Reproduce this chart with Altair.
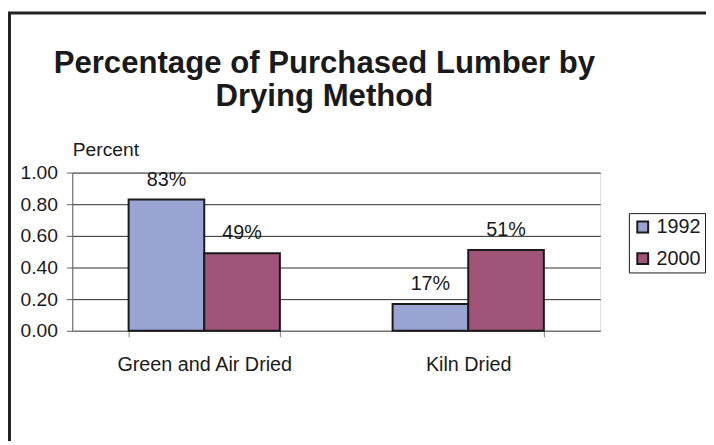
import altair as alt
import pandas as pd

# ---- data ----
methods = ["Green and Air Dried", "Green and Air Dried", "Kiln Dried", "Kiln Dried"]
years = ["1992", "2000", "1992", "2000"]
shares = [0.83, 0.49, 0.17, 0.51]
labels = ["83%", "49%", "17%", "51%"]
cat_order = ["Green and Air Dried", "Kiln Dried"]
year_order = ["1992", "2000"]
y_ticks = [0.0, 0.2, 0.4, 0.6, 0.8, 1.0]
colors = ["#9AA4D3", "#A05478"]
title_lines = ["Percentage of Purchased Lumber by", "Drying Method"]

df = pd.DataFrame({"method": methods, "year": years, "share": shares, "label": labels})

FONT = "Liberation Sans"
TXT = "#1a1a1a"

x = alt.X(
    "method:N",
    sort=cat_order,
    scale=alt.Scale(paddingInner=0.427, paddingOuter=0.2135),
    axis=alt.Axis(
        title=None, labelAngle=0, tickBand="extent", labelBaseline="alphabetic",
        labelPadding=34, tickSize=6, labelFontSize=20, labelFont=FONT,
        domainColor="#808080", tickColor="#808080", labelColor=TXT,
    ),
)
xo = alt.XOffset("year:N", sort=year_order, scale=alt.Scale(paddingInner=0, paddingOuter=0))
y = alt.Y(
    "share:Q",
    scale=alt.Scale(domain=[0, 1], nice=False),
    axis=alt.Axis(
        values=y_ticks, format=".2f", title="Percent", titleAngle=0, titleAlign="left",
        titleBaseline="alphabetic", titleX=0, titleY=-17, titleFontWeight="normal",
        titleFontSize=19.5, titleFont=FONT, titleColor=TXT,
        labelFontSize=19.5, labelFont=FONT, labelColor=TXT, tickSize=6, labelPadding=9,
        grid=True, gridColor="#2a2a2a", gridWidth=1, domainColor="#606060", tickColor="#606060",
    ),
)

bars = alt.Chart(df).mark_bar(stroke="#1a1a1a", strokeWidth=2).encode(
    x=x, xOffset=xo, y=y,
    color=alt.Color(
        "year:N", sort=year_order,
        scale=alt.Scale(domain=year_order, range=colors),
        legend=alt.Legend(
            title=None, orient="none", legendX=563, legendY=41, padding=4,
            strokeColor="#1a1a1a", fillColor="white", symbolType="square",
            symbolSize=121, symbolStrokeColor="#1a1a1a", symbolStrokeWidth=2,
            labelFontSize=20, labelFont=FONT, labelColor=TXT, labelOffset=4,
            rowPadding=12,
        ),
    ),
)

text = alt.Chart(df).mark_text(
    dy=-14, baseline="alphabetic", fontSize=20, font=FONT, color=TXT
).encode(x=x, xOffset=xo, y=y, text="label:N")

frame = alt.Chart(alt.Data(values=[{"f": 1}])).mark_rect(
    fillOpacity=0, stroke="#222222", strokeWidth=3, clip=False
).encode(
    x=alt.value(-63.5), x2=alt.value(900), y=alt.value(-161.5), y2=alt.value(700)
)

chart = alt.layer(frame, bars, text).properties(
    width=534,
    height=160,
    padding={"left": 65, "top": 164, "right": 107, "bottom": 109},
    autosize=alt.AutoSizeParams(type="none"),
    title=alt.TitleParams(
        text=title_lines, fontSize=31.5, font=FONT, fontWeight="bold", color=TXT,
        anchor="middle", frame="group", dx=-12, lineHeight=33,
        baseline="top", offset=0, dy=102,
    ),
).configure_view(
    fill="#C0C3C8", stroke="#808080", strokeWidth=1
).configure(background="white")

chart.save("out.html", embed_options={"renderer": "svg", "actions": False})
